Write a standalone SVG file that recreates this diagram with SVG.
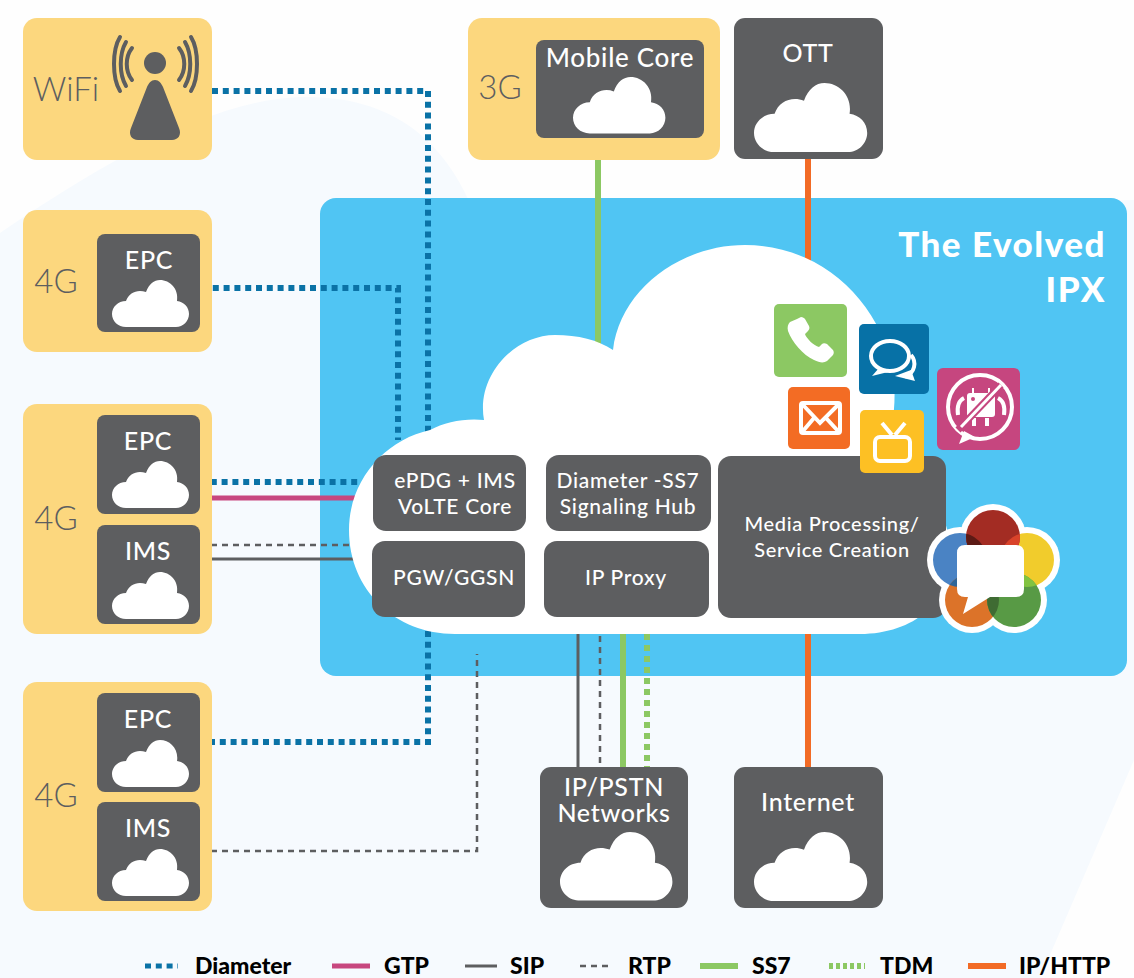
<svg xmlns="http://www.w3.org/2000/svg" xmlns:xlink="http://www.w3.org/1999/xlink" width="1134" height="978" viewBox="0 0 1134 978">
<style>
text{font-family:Lato,"Open Sans","Liberation Sans",sans-serif}
.y{fill:#fcd77e}.d{fill:#5d5e60}
.g{font-size:33px;fill:#5d5e60;text-anchor:middle}
.w{font-size:25px;font-weight:500;fill:#fff;text-anchor:middle;letter-spacing:.7px}
.s{font-size:21px;font-weight:500;fill:#fff;text-anchor:middle;letter-spacing:.7px}
.l{font-size:23px;font-weight:900;fill:#000}
.t{font-size:35px;font-weight:900;fill:#fff;text-anchor:end;letter-spacing:1.5px}
.c{fill:#fff}
.dia{fill:none;stroke:#0a72a6;stroke-width:6;stroke-dasharray:6 4.8}
.gtp{fill:none;stroke:#c7477f;stroke-width:5}
.sip{fill:none;stroke:#5d5e60;stroke-width:3}
.rtp{fill:none;stroke:#5d5e60;stroke-width:2.5;stroke-dasharray:6 5}
.ss7{fill:none;stroke:#8cc863;stroke-width:6}
.tdm{fill:none;stroke:#8cc863;stroke-width:6;stroke-dasharray:6 5}
.ip{fill:none;stroke:#f26b26;stroke-width:6}
.arc{fill:none;stroke:#5d5e60;stroke-width:4;stroke-linecap:round}
.ic{fill:#fff}
.icl{fill:none;stroke:#fff;stroke-width:4}
</style>
<defs>
<path id="sc" d="M14 47C6 47 0 41 0 34C0 27 6 21 14 21C17 12 26 9 34 12C37 4 42 0 48 0C58 0 67 9 65 21C72 22 77 27 77 34C77 41 71 47 64 47Z"/>
<clipPath id="cr"><circle cx="993" cy="537" r="27"/></clipPath>
<clipPath id="cg"><circle cx="1014" cy="600" r="27"/></clipPath>
<clipPath id="cb"><circle cx="960" cy="560" r="27"/></clipPath>
</defs>
<rect width="1134" height="978" fill="#fefefe"/>
<path d="M0 233C100 165 210 100 300 97C400 94 450 150 475 215L1134 200V760L1040 978H0Z" fill="#f6fafe"/>
<rect id="ipx-panel" x="320" y="198" width="807" height="478" rx="16" fill="#50c5f3"/>
<g id="connectors">
<path class="dia" d="M212 91H428V742H202"/>
<path class="dia" d="M202 288H398V440"/>
<path class="dia" d="M200 482H360"/>
<path class="gtp" d="M200 498H360"/>
<path class="rtp" d="M200 545H355"/>
<path class="sip" d="M200 559H360"/>
<path class="rtp" d="M200 851H477V654"/>
<path class="sip" d="M578 625V767"/>
<path class="rtp" d="M600 625V767"/>
<path class="ss7" d="M623 625V767"/>
<path class="tdm" d="M647 634V767"/>
<path class="ss7" d="M598 160V350"/>
<path class="ip" d="M808 159V270"/>
<path class="ip" d="M808 625V767"/>
</g>
<path id="main-cloud" fill="#fff" d="M455 634C395 634 349 590 349 530C349 480 385 440 430 430C445 422 465 418 484 420C476 375 515 335 555 335C578 335 598 340 613 350C620 290 680 245 745 245C820 245 880 300 893 372C897 400 893 430 885 452C925 470 951 515 951 560C951 600 915 634 860 634Z"/>
<g id="wifi"><rect class="y" x="23" y="18" width="189" height="142" rx="14"/>
<text x="66" y="101" class="g" style="font-weight:300">WiFi</text>
<circle class="d" cx="155" cy="63" r="11"/>
<path class="d" d="M155 80C151 80 149 83 147 87L131 128C128 135 132 140 138 140H172C178 140 182 135 179 128L163 87C161 83 159 80 155 80Z"/>
<path class="arc" d="M120 37C112 50 112 78 120 91M126 42C119 54 119 74 126 86M132 48C125 57 125 71 132 80M191 37C199 50 199 78 191 91M185 42C192 54 192 74 185 86M179 48C186 57 186 71 179 80"/></g>
<g id="g4-top"><rect class="y" x="23" y="210" width="189" height="142" rx="14"/><text x="56" y="293" class="g" style="font-weight:300">4G</text></g>
<g id="epc-top"><rect class="d" x="97" y="234" width="103" height="98" rx="8"/><text x="149" y="269" class="w">EPC</text><use href="#sc" x="112" y="280" class="c"/></g>
<g id="g4-mid"><rect class="y" x="23" y="404" width="189" height="230" rx="14"/><text x="56" y="530" class="g" style="font-weight:300">4G</text></g>
<g id="epc-mid"><rect class="d" x="97" y="415" width="103" height="99" rx="8"/><text x="148" y="450" class="w">EPC</text><use href="#sc" x="112" y="461" class="c"/></g>
<g id="ims-mid"><rect class="d" x="97" y="525" width="103" height="99" rx="8"/><text x="148" y="560" class="w">IMS</text><use href="#sc" x="112" y="572" class="c"/></g>
<g id="g4-bot"><rect class="y" x="23" y="682" width="189" height="229" rx="14"/><text x="56" y="807" class="g" style="font-weight:300">4G</text></g>
<g id="epc-bot"><rect class="d" x="97" y="693" width="103" height="99" rx="8"/><text x="148" y="728" class="w">EPC</text><use href="#sc" x="112" y="740" class="c"/></g>
<g id="ims-bot"><rect class="d" x="97" y="802" width="103" height="99" rx="8"/><text x="148" y="837" class="w">IMS</text><use href="#sc" x="112" y="849" class="c"/></g>
<g id="g3"><rect class="y" x="468" y="18" width="252" height="142" rx="14"/><text x="500" y="99" class="g" style="font-weight:300">3G</text></g>
<g id="mobile-core"><rect class="d" x="536" y="40" width="168" height="98" rx="8"/><text x="620" y="67" class="w" style="font-size:26px">Mobile Core</text><use href="#sc" transform="translate(573 77) scale(1.2)" class="c"/></g>
<g id="ott"><rect class="d" x="734" y="18" width="149" height="141" rx="11"/><text x="808" y="62" class="w">OTT</text><use href="#sc" transform="translate(754 83) scale(1.47)" class="c"/></g>
<g id="internet"><rect class="d" x="734" y="767" width="149" height="141" rx="11"/><text x="808" y="811" class="w">Internet</text><use href="#sc" transform="translate(754 832) scale(1.47)" class="c"/></g>
<g id="pstn"><rect class="d" x="540" y="767" width="148" height="141" rx="11"/><text x="614" y="796" class="w">IP/PSTN</text><text x="614" y="822" class="w">Networks</text><use href="#sc" transform="translate(560 832) scale(1.46)" class="c"/></g>
<text x="1106" y="257" class="t">The Evolved</text><text x="1106" y="302" class="t">IPX</text>
<g id="epdg"><rect class="d" x="373" y="455" width="153" height="76" rx="13"/><text x="455" y="488" class="s">ePDG + IMS</text><text x="455" y="514" class="s">VoLTE Core</text></g>
<g id="hub"><rect class="d" x="546" y="455" width="165" height="76" rx="13"/><text x="628" y="488" class="s">Diameter -SS7</text><text x="628" y="514" class="s">Signaling Hub</text></g>
<g id="pgw"><rect class="d" x="372" y="541" width="165" height="76" rx="13" style="width:153px"/><text x="454" y="585" class="s">PGW/GGSN</text></g>
<g id="proxy"><rect class="d" x="544" y="541" width="165" height="76" rx="13"/><text x="626" y="585" class="s">IP Proxy</text></g>
<g id="media"><rect class="d" x="718" y="456" width="228" height="162" rx="13"/><text x="832" y="531" class="s" style="font-size:20px">Media Processing/</text><text x="832" y="557" class="s" style="font-size:20px">Service Creation</text></g>
<g id="icon-phone"><rect x="774" y="304" width="73" height="73" rx="5" fill="#8cc863"/>
<path class="ic" d="M797 319L801 317C803 317 804 318 805 319L809 326C810 328 809 330 808 331L805 334C806 338 814 346 819 347L822 344C823 343 825 343 827 344L833 350C834 352 834 353 833 355L827 361C824 363 820 363 814 360C803 355 792 342 788 331C787 327 788 324 790 322Z"/></g>
<g id="icon-chat"><rect x="859" y="324" width="70" height="70" rx="5" fill="#0771a6"/>
<ellipse class="icl" cx="890" cy="356" rx="19" ry="15" stroke-width="4"/>
<path class="ic" d="M879 368L872 376L888 372Z"/>
<path class="icl" d="M911 355C917 362 915 373 905 377"/><path class="ic" d="M895 376L915 381L911 370Z"/></g>
<g id="icon-bot"><rect x="937" y="368" width="83" height="82" rx="6" fill="#c6467f"/>
<circle class="icl" cx="980" cy="407" r="32" stroke-width="4"/><path class="ic" d="M959 444L975 437L964 431Z"/>
<rect class="ic" x="967" y="393" width="28" height="24" rx="3"/><path class="icl" d="M964 398C958 401 957 408 958 415M998 398C1004 401 1005 408 1004 415" stroke-width="3"/>
<path class="ic" d="M972 388h2v6h-2zM988 388h2v6h-2zM972 418h4v8h-4zM985 418h4v8h-4z"/>
<circle cx="973" cy="399" r="2" fill="#c6467f"/><circle cx="989" cy="399" r="2" fill="#c6467f"/>
<path d="M1001 385L958 430" stroke="#c6467f" stroke-width="7"/><path d="M1001 385L961 427" stroke="#fff" stroke-width="3"/></g>
<g id="icon-mail"><rect x="788" y="387" width="62" height="62" rx="5" fill="#f36c24"/>
<rect class="icl" x="801" y="403" width="39" height="30" rx="2" stroke-width="3.5" style="x:801px"/>
<path class="icl" d="M803 405L820 423L838 405M803 431L814 418M838 431L826 418" stroke-width="3"/></g>
<g id="icon-tv"><rect x="860" y="410" width="64" height="63" rx="5" fill="#fdc024"/>
<rect class="icl" x="875" y="437" width="35" height="24" rx="5" stroke-width="5"/>
<path class="icl" d="M882 423L892 435M905 423L895 435" stroke-width="3.5"/></g>
<g id="webrtc">
<g fill="#fff"><circle cx="993" cy="537" r="33"/><circle cx="960" cy="560" r="33"/><circle cx="1027" cy="560" r="33"/><circle cx="972" cy="600" r="33"/><circle cx="1014" cy="600" r="33"/></g>
<circle cx="1027" cy="560" r="27" fill="#f1cc2c"/><circle cx="960" cy="560" r="27" fill="#4a83c4"/><circle cx="993" cy="537" r="27" fill="#a32c23"/><circle cx="972" cy="600" r="27" fill="#dc7329"/><circle cx="1014" cy="600" r="27" fill="#589a45"/>
<circle cx="960" cy="560" r="27" fill="#5c1a15" clip-path="url(#cr)"/><circle cx="1027" cy="560" r="27" fill="#d9432a" clip-path="url(#cr)"/><circle cx="1027" cy="560" r="27" fill="#82c341" clip-path="url(#cg)"/><circle cx="972" cy="600" r="27" fill="#3f6b33" clip-path="url(#cg)"/><circle cx="972" cy="600" r="27" fill="#2f6699" clip-path="url(#cb)"/>
<path fill="#fff" d="M965 545H1016Q1024 545 1024 553V589Q1024 597 1016 597H990L963 614L968 597H965Q957 597 957 589V553Q957 545 965 545Z"/></g>
<g id="legend">
<path class="dia" style="stroke-width:5" d="M145 966H178"/><text x="195" y="974" class="l">Diameter</text>
<path class="gtp" d="M332 966H370"/><text x="384" y="974" class="l">GTP</text>
<path class="sip" d="M465 966H497"/><text x="510" y="974" class="l">SIP</text>
<path class="rtp" d="M580 966H608"/><text x="628" y="974" class="l">RTP</text>
<path class="ss7" d="M700 966H738"/><text x="752" y="974" class="l">SS7</text>
<path class="tdm" style="stroke-dasharray:4 3" d="M829 966H865"/><text x="880" y="974" class="l">TDM</text>
<path class="ip" d="M968 966H1006"/><text x="1019" y="974" class="l">IP/HTTP</text>
</g>
</svg>
